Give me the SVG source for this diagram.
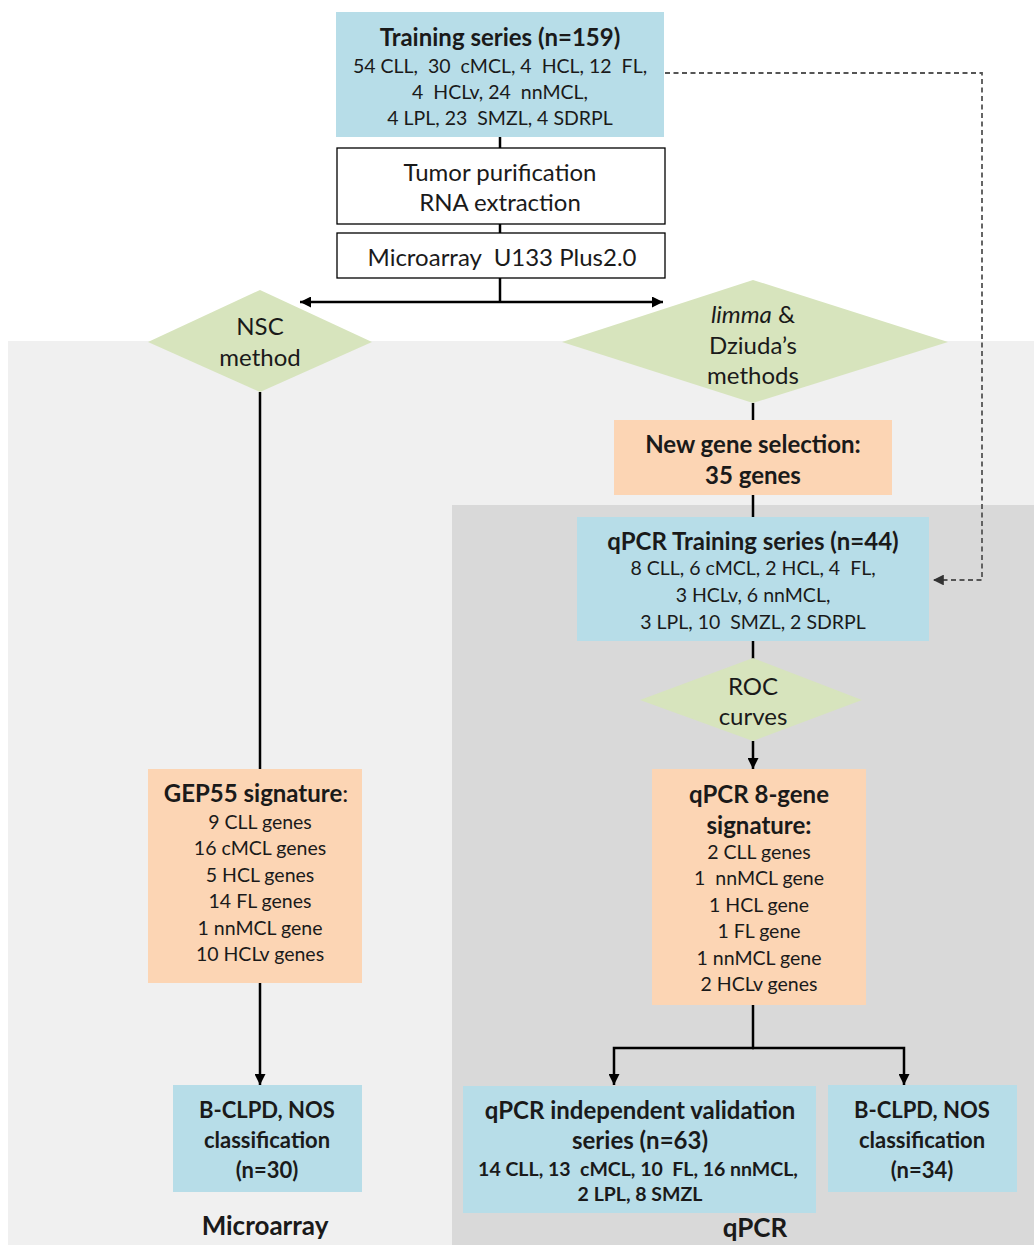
<svg xmlns="http://www.w3.org/2000/svg" width="1034" height="1245" viewBox="0 0 1034 1245" xml:space="preserve">
<defs>
<style>
text{font-family:Lato,"Open Sans","Liberation Sans",sans-serif;fill:#1a1a1a;text-anchor:middle;dominant-baseline:central;white-space:pre}
.b{font-weight:bold}
.t{font-size:24px}
.h{font-size:22px}
.s{font-size:19.5px}
.lbl{font-size:26px}
.blue{fill:#b7dde8}
.org{fill:#fcd5b4}
.grn{fill:#d7e4bd}
.wht{fill:#fff;stroke:#000;stroke-width:1.3}
.ln{stroke:#000;stroke-width:2.5;fill:none}
.dash{stroke:#555;stroke-width:1.8;fill:none;stroke-dasharray:5 3.5}
</style>
<marker id="ah" viewBox="0 0 10 10" refX="10" refY="5" markerWidth="4.4" markerHeight="4.4" orient="auto" markerUnits="strokeWidth">
<path d="M0,0 L10,5 L0,10 z" fill="#000"/>
</marker>
<marker id="ahd" viewBox="0 0 10 10" refX="10" refY="5" markerWidth="6" markerHeight="6" orient="auto" markerUnits="strokeWidth">
<path d="M0,0 L10,5 L0,10 z" fill="#333"/>
</marker>
</defs>
<rect width="1034" height="1245" fill="#fff"/>
<rect id="bg-microarray" x="8" y="341" width="1026" height="904" fill="#f0f0f0"/>
<rect id="bg-qpcr" x="452" y="505" width="582" height="740" fill="#d9d9d9"/>

<g id="connectors">
<line class="ln" x1="500" y1="137" x2="500" y2="148"/>
<line class="ln" x1="500" y1="224" x2="500" y2="233"/>
<line class="ln" x1="500" y1="278" x2="500" y2="302"/>
<line class="ln" x1="500" y1="302" x2="300" y2="302" marker-end="url(#ah)"/>
<line class="ln" x1="500" y1="302" x2="663" y2="302" marker-end="url(#ah)"/>
<line class="ln" x1="260" y1="392" x2="260" y2="769"/>
<line class="ln" x1="260" y1="983" x2="260" y2="1085" marker-end="url(#ah)"/>
<line class="ln" x1="753" y1="403" x2="753" y2="420"/>
<line class="ln" x1="753" y1="495" x2="753" y2="517"/>
<line class="ln" x1="753" y1="641" x2="753" y2="659"/>
<line class="ln" x1="753" y1="741" x2="753" y2="769" marker-end="url(#ah)"/>
<line class="ln" x1="753" y1="1005" x2="753" y2="1048"/>
<path class="ln" d="M754,1048 H614 V1085" marker-end="url(#ah)"/>
<path class="ln" d="M752,1048 H904 V1085" marker-end="url(#ah)"/>
<polyline class="dash" points="665,73 982,73 982,580 933,580" marker-end="url(#ahd)"/>
</g>

<g id="training-series">
<rect class="blue" x="336" y="12" width="328" height="125"/>
<text class="b t" x="500" y="36">Training series (n=159)</text>
<text class="s" x="500" y="65">54 CLL,  30  cMCL, 4  HCL, 12  FL,</text>
<text class="s" x="500" y="91">4  HCLv, 24  nnMCL,</text>
<text class="s" x="500" y="117">4 LPL, 23  SMZL, 4 SDRPL</text>
</g>

<g id="tumor-purification">
<rect class="wht" x="337" y="148" width="328" height="76"/>
<text class="t" x="500" y="171">Tumor purification</text>
<text class="t" x="500" y="201">RNA extraction</text>
</g>

<g id="microarray-u133">
<rect class="wht" x="337" y="233" width="328" height="45"/>
<text class="t" x="502" y="256">Microarray  U133 Plus2.0</text>
</g>

<g id="nsc-method">
<polygon class="grn" points="260,290 372,342 260,392 148,342"/>
<text class="t" x="260" y="325">NSC</text>
<text class="t" x="260" y="356">method</text>
</g>

<g id="limma-method">
<polygon class="grn" points="753,280 948,342 753,403 562,342"/>
<text class="t" x="753" y="313"><tspan font-style="italic">limma</tspan> &amp;</text>
<text class="t" x="753" y="344">Dziuda’s</text>
<text class="t" x="753" y="374">methods</text>
</g>

<g id="new-gene-selection">
<rect class="org" x="614" y="420" width="278" height="75"/>
<text class="b t" x="753" y="443">New gene selection:</text>
<text class="b t" x="753" y="474">35 genes</text>
</g>

<g id="qpcr-training">
<rect class="blue" x="577" y="517" width="352" height="124"/>
<text class="b t" x="753" y="540">qPCR Training series (n=44)</text>
<text class="s" x="753" y="567">8 CLL, 6 cMCL, 2 HCL, 4  FL,</text>
<text class="s" x="753" y="594">3 HCLv, 6 nnMCL,</text>
<text class="s" x="753" y="621">3 LPL, 10  SMZL, 2 SDRPL</text>
</g>

<g id="roc-curves">
<polygon class="grn" points="753,658 862,700 753,741 640,700"/>
<text class="t" x="753" y="685">ROC</text>
<text class="t" x="753" y="715">curves</text>
</g>

<g id="gep55">
<rect class="org" x="148" y="769" width="214" height="214"/>
<text class="t" x="256" y="792"><tspan class="b">GEP55 signature</tspan>:</text>
<text class="s" x="260" y="821">9 CLL genes</text>
<text class="s" x="260" y="847">16 cMCL genes</text>
<text class="s" x="260" y="874">5 HCL genes</text>
<text class="s" x="260" y="900">14 FL genes</text>
<text class="s" x="260" y="927">1 nnMCL gene</text>
<text class="s" x="260" y="953">10 HCLv genes</text>
</g>

<g id="qpcr-8gene">
<rect class="org" x="652" y="769" width="214" height="236"/>
<text class="b t" x="759" y="793">qPCR 8-gene</text>
<text class="b t" x="759" y="824">signature:</text>
<text class="s" x="759" y="851">2 CLL genes</text>
<text class="s" x="759" y="877">1  nnMCL gene</text>
<text class="s" x="759" y="904">1 HCL gene</text>
<text class="s" x="759" y="930">1 FL gene</text>
<text class="s" x="759" y="957">1 nnMCL gene</text>
<text class="s" x="759" y="983">2 HCLv genes</text>
</g>

<g id="bclpd-microarray">
<rect class="blue" x="173" y="1085" width="189" height="107"/>
<text class="b h" x="267" y="1109">B-CLPD, NOS</text>
<text class="b h" x="267" y="1139">classification</text>
<text class="b h" x="267" y="1169">(n=30)</text>
</g>

<g id="qpcr-validation">
<rect class="blue" x="463" y="1086" width="353" height="127"/>
<text class="b t" x="640" y="1109">qPCR independent validation</text>
<text class="b t" x="640" y="1139">series (n=63)</text>
<text class="b s" x="638" y="1168">14 CLL, 13  cMCL, 10  FL, 16 nnMCL,</text>
<text class="b s" x="640" y="1193">2 LPL, 8 SMZL</text>
</g>

<g id="bclpd-qpcr">
<rect class="blue" x="828" y="1085" width="189" height="107"/>
<text class="b h" x="922" y="1109">B-CLPD, NOS</text>
<text class="b h" x="922" y="1139">classification</text>
<text class="b h" x="922" y="1169">(n=34)</text>
</g>

<g id="labels">
<text class="b lbl" x="265" y="1225">Microarray</text>
<text class="b lbl" x="755" y="1227">qPCR</text>
</g>
</svg>
